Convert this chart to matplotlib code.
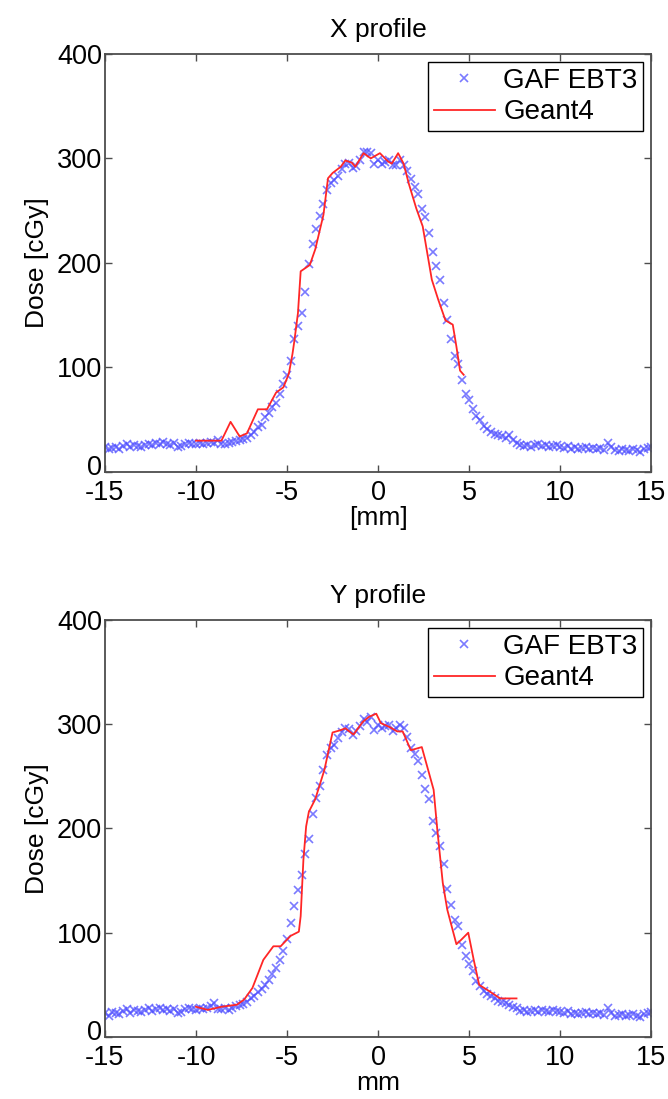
'''X and Y dose profiles: GAF EBT3 film vs Geant4 simulation.'''

# ----------------------------------------------------------------------------
# Modules
from matplotlib import pyplot as plt
from matplotlib import transforms
import numpy as np

# ----------------------------------------------------------------------------
# Data

# film positions [mm], 0.2 mm pitch
film_x = np.round(np.arange(-15.0, 15.01, 0.2), 1)

film_x_dose = [
    24, 22, 23, 24, 22, 25, 27, 24, 26, 25,
    24, 26, 27, 26, 28, 27, 29, 27, 26, 28,
    24, 25, 27, 28, 27, 27, 28, 27, 28, 29,
    28, 31, 27, 27, 28, 29, 30, 31, 32, 33,
    35, 38, 43, 45, 53, 56, 62, 66, 75, 84,
    93, 106, 127, 140, 152, 172, 199, 218, 232, 245,
    256, 270, 276, 279, 283, 290, 295, 296, 291, 293,
    298, 306, 306, 305, 295, 298, 295, 297, 298, 294,
    294, 298, 294, 288, 280, 273, 266, 252, 244, 229,
    210, 197, 184, 162, 145, 127, 111, 103, 88, 75,
    69, 60, 54, 50, 44, 41, 38, 36, 35, 34,
    33, 35, 31, 28, 26, 25, 26, 24, 26, 27,
    25, 26, 24, 25, 26, 24, 23, 25, 22, 24,
    22, 23, 24, 22, 23, 22, 23, 21, 28, 24,
    21, 20, 22, 21, 20, 22, 21, 19, 22, 23,
    24]

film_y_dose = [
    23, 20, 24, 23, 22, 25, 27, 23, 26, 25,
    24, 26, 28, 25, 27, 28, 26, 27, 25, 27,
    23, 24, 27, 28, 27, 26, 28, 27, 28, 30,
    33, 27, 27, 28, 26, 28, 30, 31, 32, 34,
    37, 39, 43, 46, 50, 55, 60, 66, 74, 82,
    94, 109, 126, 141, 155, 175, 190, 214, 229, 241,
    256, 270, 277, 280, 287, 292, 296, 295, 290, 293,
    298, 305, 302, 307, 294, 299, 296, 298, 299, 293,
    296, 299, 296, 288, 277, 271, 265, 251, 238, 228,
    207, 196, 183, 166, 142, 127, 112, 106, 88, 78,
    70, 63, 54, 49, 44, 41, 39, 37, 35, 34,
    33, 31, 29, 28, 25, 26, 24, 25, 26, 24,
    26, 25, 24, 26, 25, 24, 23, 25, 22, 23,
    22, 23, 24, 22, 23, 22, 23, 21, 28, 23,
    20, 21, 22, 20, 21, 22, 20, 19, 22, 23,
    24]

g4_x_pos = [-10.0, -8.6, -8.1, -7.6, -7.2, -6.6, -6.1, -5.6, -5.2, -4.9,
            -4.7, -4.6, -4.4, -4.25, -3.75, -3.45, -3.0, -2.75, -2.5, -2.05,
            -1.8, -1.45, -1.25, -0.8, -0.4, 0.1, 0.55, 0.75, 1.1, 1.4,
            1.7, 2.1, 2.45, 2.95, 3.3, 3.7, 4.1, 4.3, 4.5, 4.7]
g4_x_dose = [30, 30, 48, 34, 37, 60, 60, 76, 81, 94,
             113, 125, 152, 192, 198, 213, 246, 281, 286, 292,
             298, 296, 292, 305, 300, 305, 297, 295, 305, 295,
             275, 252, 235, 184, 165, 145, 141, 120, 97, 93]

g4_y_pos = [-10.0, -9.35, -8.6, -7.75, -7.35, -6.9, -6.3, -5.75, -5.35, -4.8,
            -4.35, -4.25, -4.1, -3.95, -3.8, -3.45, -2.95, -2.5, -2.1, -1.8,
            -1.35, -0.85, -0.5, -0.1, 0.15, 0.65, 1.05, 1.35, 1.8, 2.4,
            3.05, 3.25, 3.55, 3.8, 4.3, 4.55, 4.95, 5.25, 5.55, 6.1,
            6.7, 7.6]
g4_y_dose = [29, 26, 29, 31, 36, 47, 74, 87, 87, 97,
             101, 116, 170, 202, 216, 228, 256, 292, 294, 296,
             290, 302, 307, 310, 301, 297, 293, 293, 275, 278,
             237, 199, 148, 122, 89, 93, 100, 74, 50, 44,
             37, 37]

titles = ['X profile', 'Y profile']
xlabels = ['[mm]', 'mm']

# ----------------------------------------------------------------------------


def profile_plot(figure, ax, film_dose, g4_pos, g4_dose, title, xlabel):
    """Plots one dose profile with film points and the Geant4 line."""

    ax.plot(film_x, film_dose, 'x', color=(0.3, 0.3, 1.0), alpha=0.75,
            markersize=5.5, markeredgewidth=1.2, label='GAF EBT3')
    ax.plot(g4_pos, g4_dose, '-', color=(1.0, 0.15, 0.15), linewidth=1.3,
            label='Geant4')

    ax.set_xlim(-15, 15)
    ax.set_ylim(0, 400)
    ax.set_xticks([-15, -10, -5, 0, 5, 10, 15])
    ax.set_yticks([0, 100, 200, 300, 400])
    ax.tick_params(direction='in', top=True, right=True, length=5,
                   width=1, color='0.3', labelsize=19.5)
    ax.tick_params(axis='x', pad=6)
    ax.tick_params(axis='y', pad=2)
    for spine in ax.spines.values():
        spine.set_color('0.3')
        spine.set_linewidth(1.3)

    # lift the '0' a little so it clears the '-15' below it
    zero_label = ax.yaxis.get_major_ticks()[0].label1
    lift = transforms.ScaledTranslation(0, 5 / 72, figure.dpi_scale_trans)
    zero_label.set_transform(zero_label.get_transform() + lift)

    ax.set_title(title, fontsize=19, pad=12)
    ax.set_xlabel(xlabel, fontsize=19, labelpad=0)
    ax.set_ylabel('Dose [cGy]', fontsize=19, labelpad=6)

    leg = ax.legend(loc='upper right', fontsize=20, fancybox=False,
                    framealpha=1, edgecolor='black', borderpad=0.2,
                    handlelength=2.2, handletextpad=0.3, labelspacing=0.2,
                    borderaxespad=0.3)
    leg.get_frame().set_linewidth(1.0)

    return None

# ----------------------------------------------------------------------------


def main():

    plt.rcParams['font.family'] = ['Liberation Sans', 'DejaVu Sans']
    plt.rcParams['axes.unicode_minus'] = False

    figure = plt.figure(figsize=(6.68, 10.99), dpi=100)
    ax1 = figure.add_axes([0.157, 0.5705, 0.818, 0.3805])
    ax2 = figure.add_axes([0.157, 0.0564, 0.818, 0.3796])

    profile_plot(figure, ax1, film_x_dose, g4_x_pos, g4_x_dose,
                 titles[0], xlabels[0])
    profile_plot(figure, ax2, film_y_dose, g4_y_pos, g4_y_dose,
                 titles[1], xlabels[1])

    figure.savefig('out.png', dpi=100)

    return None

# ----------------------------------------------------------------------------


if __name__ == "__main__":
    main()
